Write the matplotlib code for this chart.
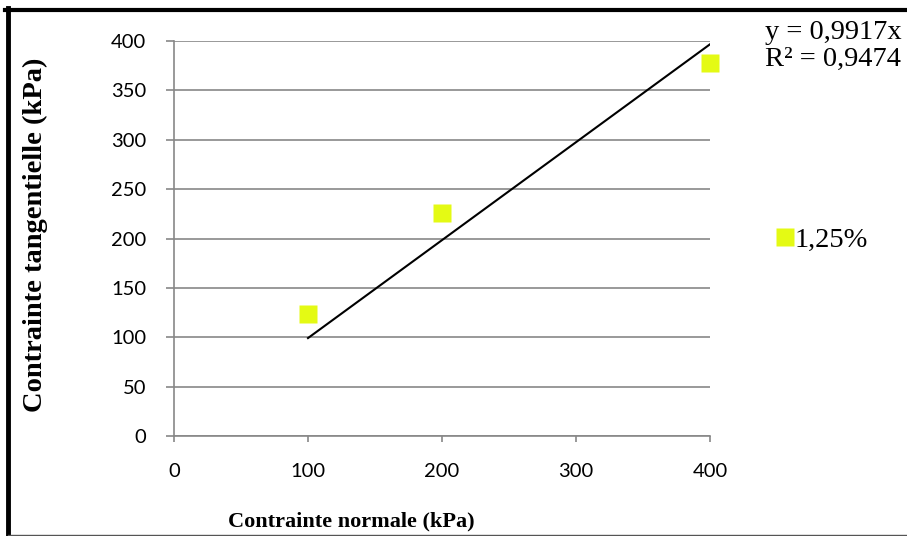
import matplotlib
matplotlib.use("Agg")
import matplotlib.pyplot as plt
from matplotlib.lines import Line2D
import numpy as np

# Shear test results
normal_stress = [100, 200, 400]          # kPa
shear_stress = [123.5, 226, 378]         # kPa
series_label = "1,25%"
slope = 0.9917
r_squared = 0.9474
x_ticks = [0, 100, 200, 300, 400]
y_ticks = [0, 50, 100, 150, 200, 250, 300, 350, 400]

marker_color = "#E4FA14"
grid_color = "#878787"
tick_family = ["Liberation Sans Narrow", "Lato"]
serif = "Liberation Serif"

fig = plt.figure(figsize=(9.07, 5.36), dpi=100)
ax = fig.add_axes([174 / 907, 1 - 436 / 536, 536 / 907, 395 / 536])

ax.set_xlim(0, 400)
ax.set_ylim(0, 400)
ax.set_xticks(x_ticks)
ax.set_yticks(y_ticks)

ax.grid(axis="y", color=grid_color, linewidth=1.2)
ax.set_axisbelow(True)
for side in ("top", "right"):
    ax.spines[side].set_visible(False)
for side in ("left", "bottom"):
    ax.spines[side].set_color(grid_color)
    ax.spines[side].set_linewidth(1.2)

ax.tick_params(axis="x", direction="out", length=4.5, width=1.2, color=grid_color, pad=15)
ax.tick_params(axis="y", direction="out", length=6, width=1.2, color=grid_color, pad=14)
for lbl in ax.get_xticklabels() + ax.get_yticklabels():
    lbl.set_fontfamily(tick_family)
    lbl.set_fontsize(14.5)

# Data points
ax.plot(normal_stress, shear_stress, linestyle="none", marker="s", markersize=13.5,
        markerfacecolor=marker_color, markeredgecolor="none", clip_on=False, zorder=3)

# Linear trend through the origin
xs = np.array([min(normal_stress), max(normal_stress)])
ax.plot(xs, slope * xs, color="black", linewidth=1.5, zorder=2)

ax.set_xlabel("Contrainte normale (kPa)", family=serif, weight="bold", fontsize=16)
ax.xaxis.set_label_coords((351 - 174) / 536, (436 - 521) / 395)
ax.xaxis.label.set_va("center")
ax.set_ylabel("Contrainte tangentielle (kPa)", family=serif, weight="bold", fontsize=20.5)
ax.yaxis.set_label_coords((35 - 174) / 536, (436 - 234.5) / 395)
ax.yaxis.label.set_va("center")

# Trendline equation
eq_text = "y = {:.4f}x\nR² = {:.4f}".format(slope, r_squared).replace(".", ",")
fig.text(765 / 907, 1 - 46 / 536, eq_text, family=serif, fontsize=20.5,
         ha="left", va="center", linespacing=1.12)

# Legend
handle = Line2D([], [], linestyle="none", marker="s", markersize=13.5,
                markerfacecolor=marker_color, markeredgecolor="none")
fig.legend([handle], [series_label], loc="center left",
           bbox_to_anchor=(779 / 907, 1 - 240 / 536), frameon=False,
           prop=dict(family=serif, size=20.5), handlelength=0.45, handletextpad=0.1,
           borderpad=0, borderaxespad=0)

# Chart frame
fig.add_artist(Line2D([5 / 907, 1], [1 - 9.5 / 536] * 2, color="black", linewidth=3,
                      transform=fig.transFigure))
fig.add_artist(Line2D([7.5 / 907] * 2, [0, 1 - 8 / 536], color="black", linewidth=3.5,
                      transform=fig.transFigure))
fig.add_artist(Line2D([7.5 / 907, 1], [1 - 535 / 536] * 2, color="#555555", linewidth=1,
                      transform=fig.transFigure))

fig.savefig("out.png", dpi=100)
